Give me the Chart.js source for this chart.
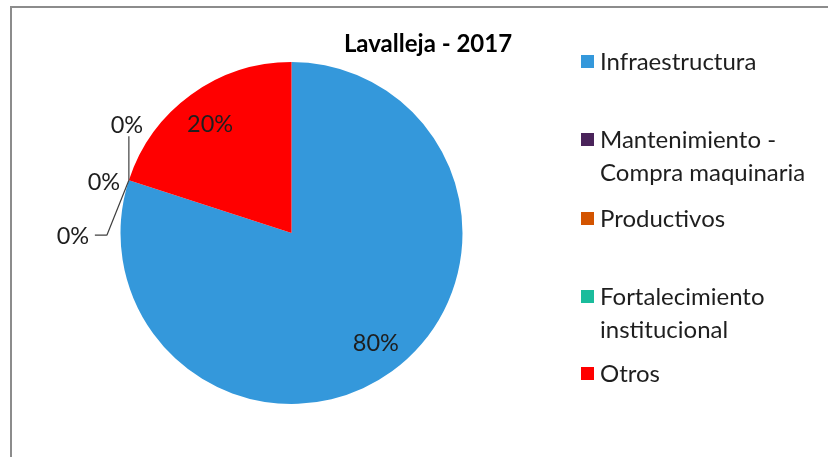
<!DOCTYPE html>
<html>
<head>
<meta charset="utf-8">
<script src="https://cdn.jsdelivr.net/npm/chart.js@4"></script>
<style>
  html, body { margin: 0; padding: 0; background: #fff; }
  #wrap { width: 828px; height: 457px; position: relative; }
</style>
</head>
<body>
<div id="wrap"><canvas id="pieChart" width="828" height="457"></canvas></div>
<script>
const chartTitle = 'Lavalleja - 2017';
const categories = [
    ['Infraestructura'],
    ['Mantenimiento -', 'Compra maquinaria'],
    ['Productivos'],
    ['Fortalecimiento', 'institucional'],
    ['Otros']
];
const shares = [80, 0, 0, 0, 20];
const sliceColors = ['#3498db', '#4a235a', '#d35400', '#1abc9c', '#ff0000'];

const FONT = 'Lato, "Open Sans", sans-serif';
const TEXT = '#1e1e1e';

// frame, title, custom legend and percentage labels
const decorations = {
    id: 'decorations',
    beforeDraw(chart) {
        const ctx = chart.ctx;
        ctx.save();
        ctx.fillStyle = '#fff';
        ctx.fillRect(0, 0, chart.width, chart.height);
        ctx.strokeStyle = '#8c8c8c';
        ctx.lineWidth = 2;
        ctx.beginPath();
        ctx.moveTo(11, chart.height);
        ctx.lineTo(11, 7);
        ctx.lineTo(chart.width, 7);
        ctx.stroke();
        ctx.restore();
    },
    afterDraw(chart) {
        const ctx = chart.ctx;
        ctx.save();

        // title
        ctx.fillStyle = '#000';
        ctx.font = 'bold 24px ' + FONT;
        ctx.textAlign = 'center';
        ctx.textBaseline = 'middle';
        ctx.fillText(chartTitle, 428, 44);

        // legend
        const legendY = [61, 139, 218, 296, 373];
        ctx.font = '24px ' + FONT;
        ctx.textAlign = 'left';
        chart.data.labels.forEach((lines, i) => {
            const y = legendY[i];
            ctx.fillStyle = chart.data.datasets[0].backgroundColor[i];
            ctx.fillRect(581, y - 6, 13, 13);
            ctx.fillStyle = TEXT;
            lines.forEach((ln, j) => ctx.fillText(ln, 600, y + 1 + j * 33));
        });

        // data labels
        const meta = chart.getDatasetMeta(0);
        const total = chart.data.datasets[0].data.reduce((a, b) => a + b, 0);
        ctx.font = '23.5px ' + FONT;
        ctx.textAlign = 'center';
        ctx.fillStyle = TEXT;
        let zeroIdx = 0;
        meta.data.forEach((arc, i) => {
            const v = chart.data.datasets[0].data[i];
            const txt = Math.round(v / total * 100) + '%';
            const p = arc.getProps(['x', 'y', 'startAngle', 'endAngle', 'outerRadius'], true);
            const mid = (p.startAngle + p.endAngle) / 2;
            if (v > 0) {
                const r = p.outerRadius * 0.79;
                const dx = v > 50 ? 5 : -2;
                ctx.fillText(txt, p.x + Math.cos(mid) * r + dx, p.y + Math.sin(mid) * r + 1);
                return;
            }
            // zero slices: outside with leader lines from the edge point
            const ax = p.x + Math.cos(mid) * p.outerRadius;
            const ay = p.y + Math.sin(mid) * p.outerRadius;
            ctx.strokeStyle = '#404040';
            ctx.lineWidth = 1.2;
            if (zeroIdx === 0) {
                ctx.beginPath();
                ctx.moveTo(ax - 22, ay + 55);
                ctx.lineTo(ax - 34, ay + 55);
                ctx.moveTo(ax, ay);
                ctx.lineTo(ax - 22, ay + 55);
                ctx.stroke();
                ctx.fillText(txt, ax - 56, ay + 56);
            } else if (zeroIdx === 1) {
                ctx.fillText(txt, ax - 25, ay + 2);
            } else {
                ctx.beginPath();
                ctx.moveTo(ax, ay);
                ctx.lineTo(ax, ay - 44);
                ctx.stroke();
                ctx.fillText(txt, ax - 2, ay - 55);
            }
            zeroIdx++;
        });
        ctx.restore();
    }
};

new Chart(document.getElementById('pieChart'), {
    type: 'pie',
    data: {
        labels: categories,
        datasets: [{
            data: shares,
            backgroundColor: sliceColors,
            borderWidth: 0
        }]
    },
    options: {
        responsive: false,
        animation: false,
        layout: { padding: { left: 120, right: 365, top: 62, bottom: 53 } },
        plugins: {
            legend: { display: false },
            title: { display: false },
            tooltip: { enabled: false }
        }
    },
    plugins: [decorations]
});
</script>
</body>
</html>
